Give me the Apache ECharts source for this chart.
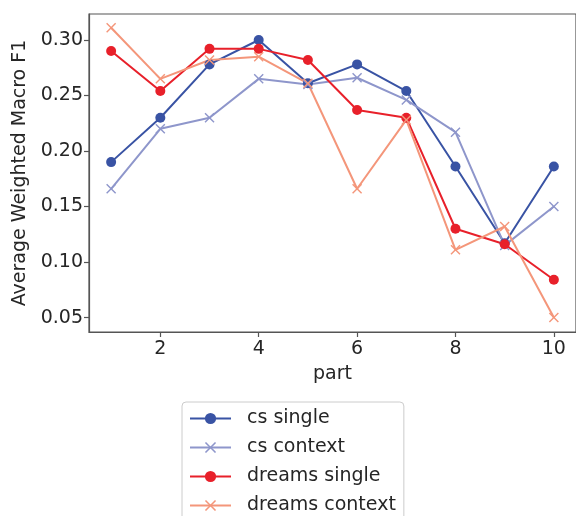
<!DOCTYPE html>
<html>
<head>
<meta charset="utf-8">
<script src="https://cdn.jsdelivr.net/npm/echarts@6/dist/echarts.min.js"></script>
<style>
html,body{margin:0;padding:0;background:#fff;}
#chart{width:576px;height:516px;}
</style>
</head>
<body>
<div id="chart"></div>
<script>
const parts = [1, 2, 3, 4, 5, 6, 7, 8, 9, 10];
const csSingle = [0.190, 0.230, 0.278, 0.300, 0.261, 0.278, 0.254, 0.186, 0.117, 0.186];
const csContext = [0.166, 0.220, 0.230, 0.265, 0.260, 0.266, 0.246, 0.217, 0.115, 0.150];
const dreamsSingle = [0.290, 0.254, 0.292, 0.292, 0.282, 0.237, 0.230, 0.130, 0.116, 0.084];
const dreamsContext = [0.311, 0.265, 0.282, 0.285, 0.261, 0.166, 0.228, 0.111, 0.132, 0.050];
const xTicks = [2, 4, 6, 8, 10];
const yTicks = [0.05, 0.10, 0.15, 0.20, 0.25, 0.30];
const seriesNames = ['cs single', 'cs context', 'dreams single', 'dreams context'];

const FONT = 'DejaVu Sans';
const TXT = '#262626';
const AX = '#555555';
const X_SYMBOL = 'path://M0,10L10,0L50,40L90,0L100,10L60,50L100,90L90,100L50,60L10,100L0,90L40,50Z';

function pairs(vals) { return parts.map((p, i) => [p, vals[i]]); }

function mk(name, vals, color, marker) {
  const isX = marker === 'x';
  return {
    name: name,
    type: 'line',
    data: pairs(vals),
    symbol: isX ? X_SYMBOL : 'circle',
    symbolSize: 10,
    showSymbol: true,
    lineStyle: { color: color, width: 2 },
    itemStyle: { color: color, borderWidth: 0, opacity: 1 },
    z: 2
  };
}

const chart = echarts.init(document.getElementById('chart'), null, { renderer: 'canvas' });
chart.setOption({
  animation: false,
  backgroundColor: '#ffffff',
  textStyle: { fontFamily: FONT },
  grid: {
    left: 89, top: 14, right: -3, bottom: 184,
    show: true, borderColor: AX, borderWidth: 1.2, backgroundColor: 'transparent'
  },
  xAxis: {
    type: 'value',
    min: 0.55, max: 10.45,
    name: 'part',
    nameLocation: 'middle',
    nameGap: 33,
    nameTextStyle: { fontFamily: FONT, fontSize: 19, color: TXT },
    axisLine: { show: true, lineStyle: { color: AX, width: 1.2 } },
    axisTick: { show: true, length: 5, lineStyle: { color: AX, width: 1.2 }, customValues: xTicks },
    axisLabel: { show: true, fontFamily: FONT, fontSize: 19, color: TXT, margin: 8, customValues: xTicks,
      formatter: v => String(v) },
    splitLine: { show: false }
  },
  yAxis: {
    type: 'value',
    min: 0.037, max: 0.3234,
    name: 'Average Weighted Macro F1',
    nameLocation: 'middle',
    nameGap: 58,
    nameRotate: 90,
    nameTextStyle: { fontFamily: FONT, fontSize: 19, color: TXT },
    axisLine: { show: true, lineStyle: { color: AX, width: 1.2 } },
    axisTick: { show: true, length: 5, lineStyle: { color: AX, width: 1.2 }, customValues: yTicks },
    axisLabel: { show: true, fontFamily: FONT, fontSize: 19, color: TXT, margin: 6, customValues: yTicks,
      formatter: v => v.toFixed(2) },
    splitLine: { show: false }
  },
  legend: {
    orient: 'vertical',
    left: 182, top: 402,
    height: 160,
    padding: [7, 8, 7, 7],
    itemWidth: 41, itemHeight: 14, itemGap: 10,
    borderColor: '#cccccc', borderWidth: 1, borderRadius: 4,
    backgroundColor: '#ffffff',
    textStyle: { fontFamily: FONT, fontSize: 19, color: TXT, padding: [0, 0, 0, 11] },
    data: seriesNames
  },
  series: [
    mk(seriesNames[0], csSingle, '#3953a4', 'o'),
    mk(seriesNames[1], csContext, '#8e96cb', 'x'),
    mk(seriesNames[2], dreamsSingle, '#e8202a', 'o'),
    mk(seriesNames[3], dreamsContext, '#f4967a', 'x')
  ]
});
</script>
</body>
</html>
